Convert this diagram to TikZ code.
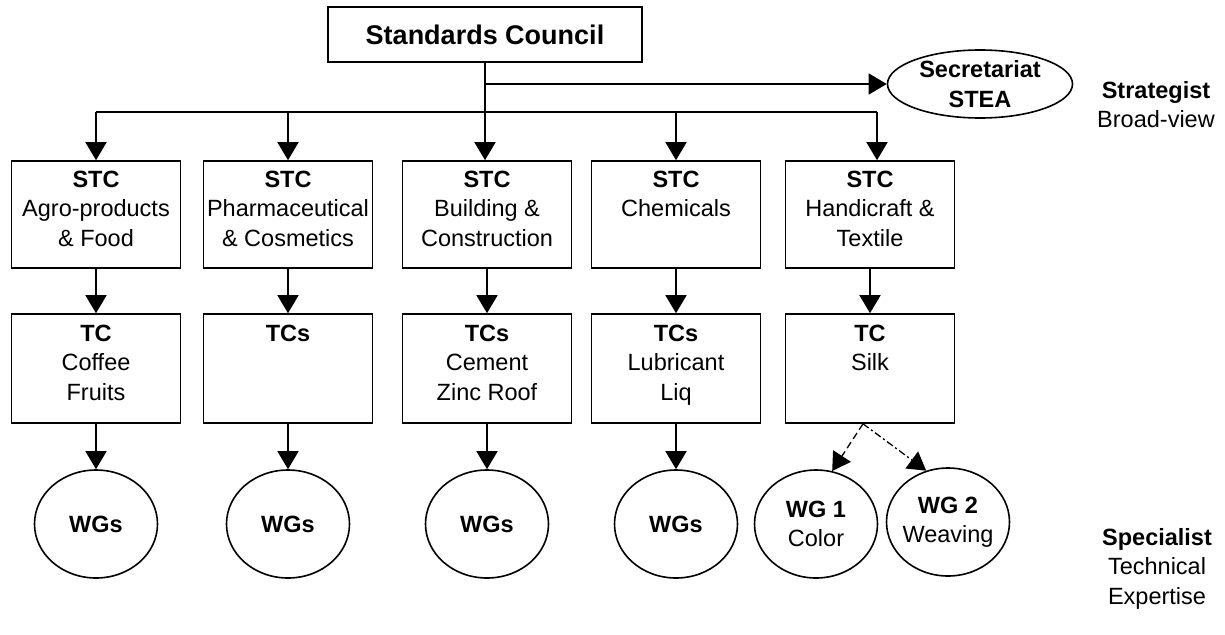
\documentclass[tikz,border=0pt]{standalone}
\usepackage{fontspec}
\setmainfont{Liberation Sans}
\usetikzlibrary{shapes.geometric,arrows.meta}
\begin{document}
\begin{tikzpicture}[x=1pt,y=-1pt,
  every node/.style={inner sep=0pt, font=\fontsize{23.5}{29.5}\selectfont},
  box/.style={draw, line width=1.6pt, minimum width=169pt, minimum height=107pt},
  tcbox/.style={draw, line width=1.6pt, minimum width=169pt, minimum height=109pt},
  wg/.style={draw, ellipse, line width=1.6pt, minimum width=123pt, minimum height=108pt, align=center},
  txt/.style={align=center, anchor=north},
  arr/.style={line width=1.6pt, -{Triangle[width=21pt,length=18pt]}},
  darr/.style={line width=1.3pt, dash pattern=on 7pt off 4pt, -{Triangle[width=21pt,length=18pt]}},
  ddarr/.style={line width=1.3pt, dash pattern=on 7pt off 3pt on 2pt off 3pt, -{Triangle[width=21pt,length=18pt]}},
  ln/.style={line width=1.6pt}
]
\useasboundingbox (0,0) rectangle (1225,634);

% top
\node[draw, line width=1.6pt, minimum width=314pt, minimum height=55pt,
      font=\bfseries\fontsize{27}{32}\selectfont] (sc) at (485,34.5) {Standards Council};
\node[draw, ellipse, line width=1.6pt, minimum width=185pt, minimum height=68pt, align=center,
      font=\bfseries\fontsize{23.5}{29.5}\selectfont] (sec) at (980,84) {Secretariat\\STEA};

% STC row
\node[box] (stc1) at (96,214.5) {};
\node[box] (stc2) at (288,214.5) {};
\node[box] (stc3) at (487,214.5) {};
\node[box] (stc4) at (676,214.5) {};
\node[box] (stc5) at (870,214.5) {};
\node[txt] (stc1t) at ([yshift=-6.4pt]stc1.north) {\strut\textbf{STC}\\\strut Agro-products\\\strut \& Food};
\node[txt] (stc2t) at ([yshift=-6.4pt]stc2.north) {\strut\textbf{STC}\\\strut Pharmaceutical\\\strut \& Cosmetics};
\node[txt] (stc3t) at ([yshift=-6.4pt]stc3.north) {\strut\textbf{STC}\\\strut Building \&\\\strut Construction};
\node[txt] (stc4t) at ([yshift=-6.4pt]stc4.north) {\strut\textbf{STC}\\\strut Chemicals};
\node[txt] (stc5t) at ([yshift=-6.4pt]stc5.north) {\strut\textbf{STC}\\\strut Handicraft \&\\\strut Textile};

% TC row
\node[tcbox] (tc1) at (96,368.5) {};
\node[tcbox] (tc2) at (288,368.5) {};
\node[tcbox] (tc3) at (487,368.5) {};
\node[tcbox] (tc4) at (676,368.5) {};
\node[tcbox] (tc5) at (870,368.5) {};
\node[txt] (tc1t) at ([yshift=-7.4pt]tc1.north) {\strut\textbf{TC}\\\strut Coffee\\\strut Fruits};
\node[txt] (tc2t) at ([yshift=-7.4pt]tc2.north) {\strut\textbf{TCs}};
\node[txt] (tc3t) at ([yshift=-7.4pt]tc3.north) {\strut\textbf{TCs}\\\strut Cement\\\strut Zinc Roof};
\node[txt] (tc4t) at ([yshift=-7.4pt]tc4.north) {\strut\textbf{TCs}\\\strut Lubricant\\\strut Liq};
\node[txt] (tc5t) at ([yshift=-7.4pt]tc5.north) {\strut\textbf{TC}\\\strut Silk};

% WG row
\node[wg] (wg1) at (96,524) {\textbf{WGs}};
\node[wg] (wg2) at (288,524) {\textbf{WGs}};
\node[wg] (wg3) at (487,524) {\textbf{WGs}};
\node[wg] (wg4) at (676,524) {\textbf{WGs}};
\node[wg] (wga) at (816,524) {\textbf{WG 1}\\Color};
\node[wg] (wgb) at (948,522) {\textbf{WG 2}\\\makebox[80pt]{Weaving}};

% side labels
\node[txt] (strat) at (1156,77.4) {\strut\textbf{Strategist}\\\strut Broad-view};
\node[txt] (spec) at (1157,524.4) {\strut\textbf{Specialist}\\\strut Technical\\\strut Expertise};

% connectors
\coordinate (bL) at (96,112);
\coordinate (bR) at (877,112);
\draw[ln] (bL) -- (bR);
\draw[arr] (sc.south) -- (sc.south |- stc3.north);
\draw[arr] (sc.south |- sec.west) -- (sec.west);
\draw[arr] (bL) -- (stc1.north);
\draw[arr] (stc2.north |- bL) -- (stc2.north);
\draw[arr] (stc4.north |- bL) -- (stc4.north);
\draw[arr] (bR) -- (bR |- stc5.north);

\foreach \i in {1,2,3,4,5} {
  \draw[arr] (stc\i.south) -- (tc\i.north);
}
\foreach \i in {1,2,3,4} {
  \draw[arr] (tc\i.south) -- (wg\i.north);
}
\draw[darr] ([xshift=-7pt]tc5.south) -- (wga.73);
\draw[ddarr] ([xshift=-7pt]tc5.south) -- (wgb.113);
\end{tikzpicture}
\end{document}
